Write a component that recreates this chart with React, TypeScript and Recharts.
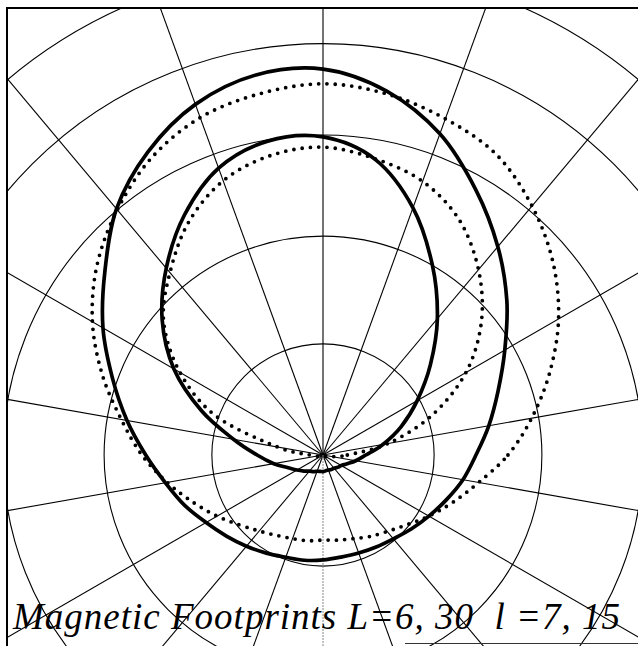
import { RadarChart, Radar, PolarGrid, PolarAngleAxis, PolarRadiusAxis } from 'recharts'

// footprint radius at each azimuth, in percent of the globe radius (orthographic)
const angles = [0, 10, 20, 30, 40, 50, 60, 70, 80, 90, 100, 110, 120, 130, 140, 150, 160, 170, 180, 190, 200, 210, 220, 230, 240, 250, 260, 270, 280, 290, 300, 310, 320, 330, 340, 350]

const outerSolid = [23.9, 26.3, 29.1, 32.8, 37.5, 42.5, 47.8, 53.4, 57.7, 60.3, 60.3, 58.3, 54.7, 50.2, 44.5, 39.7, 35.0, 31.1, 27.7, 25.0, 23.0, 21.1, 19.7, 18.6, 17.7, 17.0, 16.7, 16.4, 16.2, 16.3, 16.6, 17.1, 18.0, 19.1, 20.5, 22.2]
const outerDotted = [28.9, 33.1, 37.7, 42.5, 46.9, 50.8, 54.2, 55.9, 57.3, 58.0, 57.3, 56.1, 53.6, 50.0, 46.1, 41.6, 36.7, 32.0, 28.3, 24.7, 21.6, 19.1, 17.0, 15.5, 14.5, 13.9, 13.6, 13.3, 13.5, 13.9, 14.7, 15.6, 17.0, 19.1, 21.6, 24.7]
const innerSolid = [6.7, 9.5, 13.0, 17.0, 21.9, 27.8, 34.2, 41.1, 46.9, 49.7, 49.8, 47.7, 43.3, 38.1, 32.8, 26.9, 20.2, 14.2, 10.3, 7.8, 5.8, 4.7, 3.9, 3.3, 3.0, 2.7, 2.6, 2.6, 2.5, 2.5, 2.6, 2.7, 3.0, 3.3, 4.0, 5.2]
const innerDotted = [3.8, 10.3, 18.1, 25.8, 32.3, 37.8, 42.5, 45.5, 47.0, 48.1, 47.5, 45.6, 42.0, 37.2, 32.5, 25.8, 17.8, 7.2, 2.0, 1.0, 0.69, 0.47, 0.36, 0.31, 0.27, 0.25, 0.23, 0.23, 0.23, 0.25, 0.27, 0.31, 0.36, 0.47, 0.69, 1.5]

const colatitudes = [10, 20, 30, 40, 50]
const meridians = [10, 30, 50, 70, 90, 110, 130, 150, 170, 190, 210, 230, 250, 290, 310, 330, 350]
const dateline = [270]
const title = 'Magnetic Footprints L=6, 30  l =7, 15'

const R = 640
const rings = colatitudes.map((c) => R * Math.sin((c * Math.PI) / 180))

const data = angles.map((angle, i) => ({
  angle,
  outerSolid: outerSolid[i],
  outerDotted: outerDotted[i],
  innerSolid: innerSolid[i],
  innerDotted: innerDotted[i],
}))

type Pt = { x: number; y: number }

// closed catmull-rom through the radar points
const smoothPath = (pts: Pt[]) => {
  const n = pts.length
  let d = `M${pts[0].x},${pts[0].y}`
  for (let i = 0; i < n; i++) {
    const p0 = pts[(i - 1 + n) % n]
    const p1 = pts[i]
    const p2 = pts[(i + 1) % n]
    const p3 = pts[(i + 2) % n]
    const c1x = p1.x + (p2.x - p0.x) / 6
    const c1y = p1.y + (p2.y - p0.y) / 6
    const c2x = p2.x - (p3.x - p1.x) / 6
    const c2y = p2.y - (p3.y - p1.y) / 6
    d += ` C${c1x},${c1y} ${c2x},${c2y} ${p2.x},${p2.y}`
  }
  return d + ' Z'
}

const footprint = (style: Record<string, string | number>) => (props: { points: Pt[] }) => (
  <path d={smoothPath(props.points)} fill="none" stroke="#000" strokeLinejoin="round" {...style} />
)

const solid = { strokeWidth: 3.7 }
const dotted = { strokeWidth: 3.8, strokeDasharray: '0 8.3', strokeLinecap: 'round' }

export default function App() {
  return (
    <div style={{ position: 'absolute', left: 0, top: 0, width: 638, height: 646, background: '#fff' }}>
      <div style={{ position: 'absolute', left: 6, top: 7 }}>
        <RadarChart
          width={632}
          height={639}
          cx={317}
          cy={448}
          outerRadius={R}
          startAngle={0}
          endAngle={360}
          data={data}
          margin={{ top: 0, right: 0, bottom: 0, left: 0 }}
        >
          <PolarGrid gridType="circle" polarRadius={rings} polarAngles={meridians} stroke="#000" strokeWidth={1.1} />
          <PolarGrid gridType="circle" polarRadius={[]} polarAngles={dateline} stroke="#888" strokeWidth={1} strokeDasharray="2 1" />
          <PolarAngleAxis type="number" dataKey="angle" domain={[0, 360]} tick={false} axisLine={false} />
          <PolarRadiusAxis type="number" domain={[0, 100]} tick={false} axisLine={false} />
          <Radar dataKey="outerSolid" stroke="#000" fill="none" dot={false} isAnimationActive={false} shape={footprint(solid)} />
          <Radar dataKey="outerDotted" stroke="#000" fill="none" dot={false} isAnimationActive={false} shape={footprint(dotted)} />
          <Radar dataKey="innerSolid" stroke="#000" fill="none" dot={false} isAnimationActive={false} shape={footprint(solid)} />
          <Radar dataKey="innerDotted" stroke="#000" fill="none" dot={false} isAnimationActive={false} shape={footprint(dotted)} />
        </RadarChart>
      </div>
      <div
        style={{
          position: 'absolute',
          left: 6,
          top: 7,
          width: 632,
          height: 639,
          borderLeft: '2px solid #000',
          borderTop: '2px solid #000',
          boxSizing: 'border-box',
          pointerEvents: 'none',
        }}
      />
      <div style={{ position: 'absolute', left: 405, top: 643, width: 233, height: 1, background: '#333' }} />
      <svg width={638} height={646} style={{ position: 'absolute', left: 0, top: 0, pointerEvents: 'none' }}>
        <text
          x={13}
          y={629}
          fontFamily="'Liberation Serif', 'Times New Roman', serif"
          fontStyle="italic"
          fontSize={37}
          textLength={607}
          lengthAdjust="spacing"
          style={{ whiteSpace: 'pre' }}
        >
          {title}
        </text>
      </svg>
    </div>
  )
}
